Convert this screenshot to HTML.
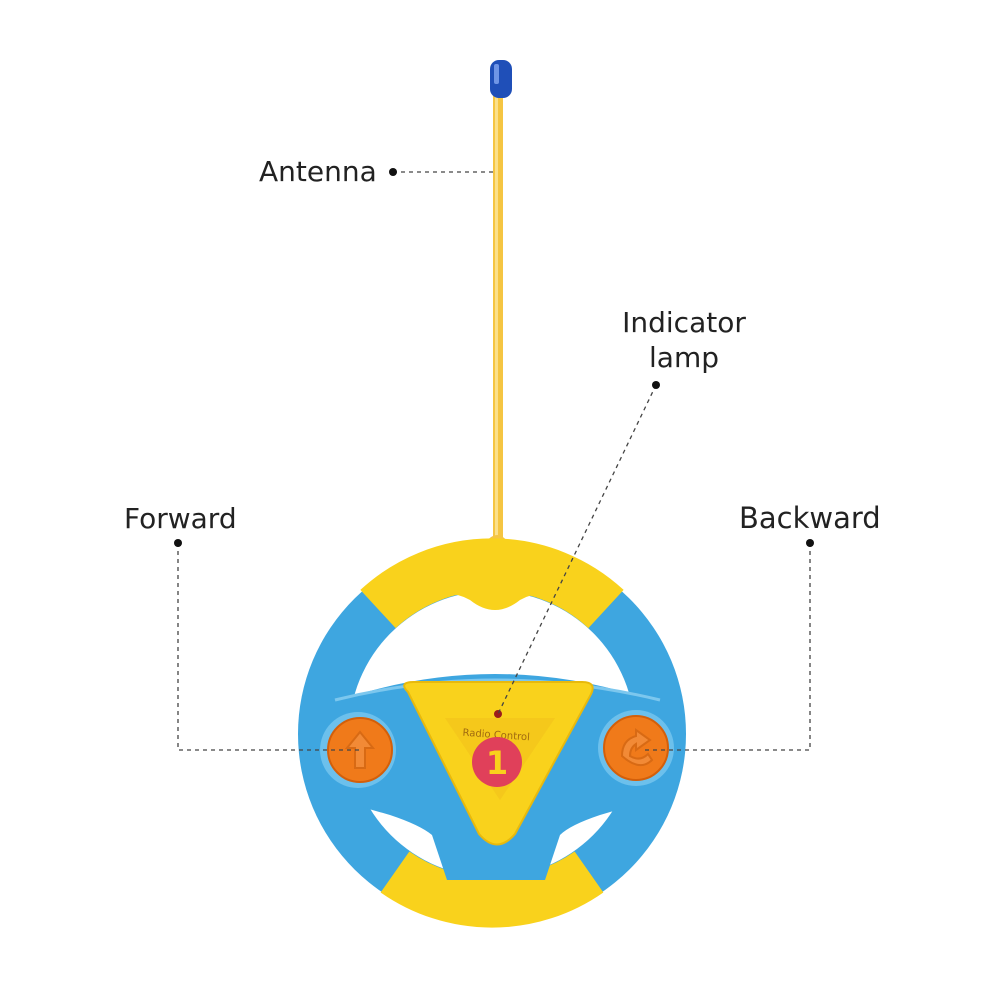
<!DOCTYPE html>
<html><head><meta charset="utf-8"><style>
html,body{margin:0;padding:0;background:#fff;width:1000px;height:1000px;overflow:hidden}
svg{display:block}
text{font-family:"DejaVu Sans","Liberation Sans",sans-serif;fill:#222}
</style></head><body>
<svg width="1000" height="1000" viewBox="0 0 1000 1000">
<rect x="493" y="92" width="10" height="450" fill="#f5c542"/>
<rect x="495" y="92" width="3" height="450" fill="#fbe08a"/>
<rect x="490" y="60" width="22" height="38" rx="9" fill="#1f4fb8"/>
<rect x="494" y="64" width="5" height="20" rx="2" fill="#6f95e6"/>
<path d="M482 548 Q497 522 512 548 Z" fill="#f5c542"/>
<ellipse cx="492" cy="734" rx="194" ry="192" fill="#3ea6e0"/>
<circle cx="492" cy="734" r="143" fill="#fff"/>
<path d="M378 609 A168 168 0 0 1 606 609" fill="none" stroke="#f9d21c" stroke-width="52"/>
<path d="M589 872 A169 169 0 0 1 395 872" fill="none" stroke="#f9d21c" stroke-width="50"/>
<path d="M410 605 Q445 585 470 600 Q495 620 520 600 Q545 585 580 605 L580 590 L410 590 Z" fill="#f9d21c"/>
<path d="M340 700 Q495 648 650 700 L668 700 L668 795 L600 815 Q570 825 560 835 L545 880 L447 880 L432 835 Q420 825 390 815 L320 795 L320 700 Z" fill="#3ea6e0"/>
<path d="M335 700 Q495 660 660 700" fill="none" stroke="#7cc7ee" stroke-width="3"/>
<path d="M408 692 Q398 682 414 682 L582 682 Q598 682 590 696 L515 834 Q497 855 479 834 Z" fill="#f9d21c" stroke="#e8b90c" stroke-width="2"/>
<path d="M445 718 L555 718 L500 800 Z" fill="#f2c21a" opacity="0.6"/>
<circle cx="498" cy="714" r="4" fill="#9b1c1c"/>
<text x="496" y="738" font-size="10" text-anchor="middle" transform="rotate(4 496 738)" style="fill:#a06a10">Radio Control</text>
<circle cx="497" cy="762" r="25" fill="#e0405a"/>
<text x="497" y="774" font-size="32" font-weight="bold" text-anchor="middle" style="fill:#f9d21c">1</text>
<circle cx="358" cy="750" r="38" fill="#6cc0ec"/>
<circle cx="360" cy="750" r="32" fill="#f07a1a" stroke="#d35f0a" stroke-width="2"/>
<path d="M360 732 L373 748 L365 748 L365 768 L355 768 L355 748 L347 748 Z" fill="#f28a36" stroke="#d86a14" stroke-width="2"/>
<circle cx="636" cy="748" r="38" fill="#6cc0ec"/>
<circle cx="636" cy="748" r="32" fill="#f07a1a" stroke="#d35f0a" stroke-width="2"/>
<path d="M622 756 Q622 740 636 736 L636 730 L650 740 L636 750 L636 744 Q630 748 630 756 Q640 762 648 754 L652 760 Q640 772 622 756 Z" fill="#f28a36" stroke="#d86a14" stroke-width="2"/>
<g stroke="#444" stroke-width="1.3" stroke-dasharray="4,4" fill="none">
<line x1="393" y1="172" x2="494" y2="172"/>
<line x1="656" y1="385" x2="498" y2="714"/>
<polyline points="178,543 178,750 360,750"/>
<polyline points="810,543 810,750 645,750"/>
</g>
<g fill="#111">
<circle cx="393" cy="172" r="4"/>
<circle cx="656" cy="385" r="4"/>
<circle cx="178" cy="543" r="4"/>
<circle cx="810" cy="543" r="4"/>
</g>
<text x="259" y="181" font-size="28">Antenna</text>
<text x="684" y="332" font-size="28" text-anchor="middle">Indicator</text>
<text x="684" y="367" font-size="28" text-anchor="middle">lamp</text>
<text x="124" y="528" font-size="28">Forward</text>
<text x="739" y="528" font-size="29">Backward</text>
</svg>
</body></html>
